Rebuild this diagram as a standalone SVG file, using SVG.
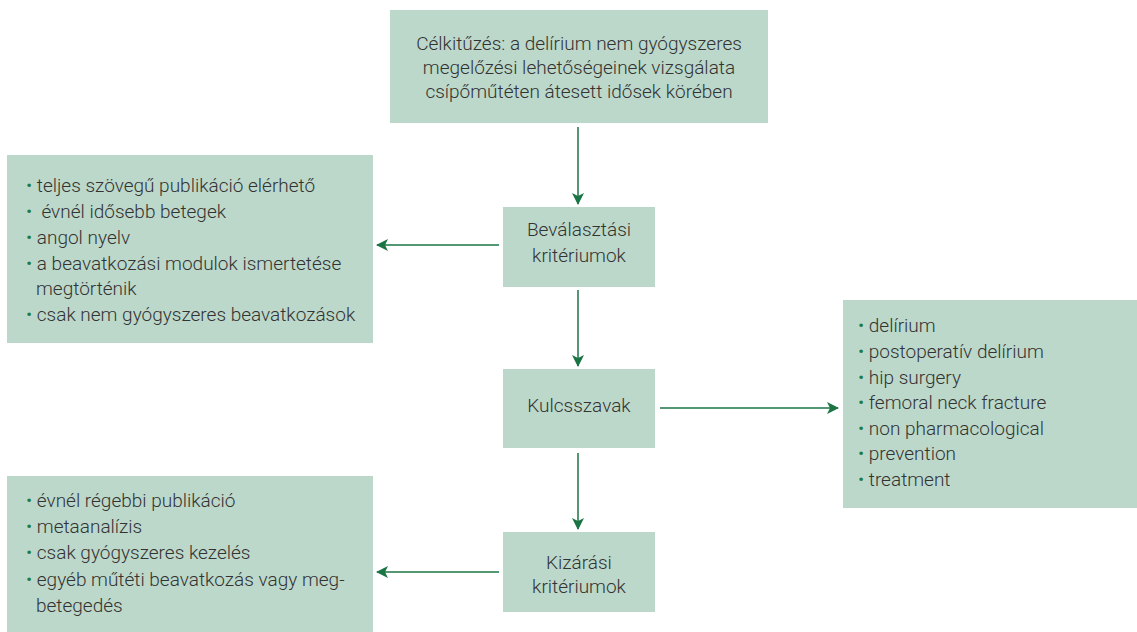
<svg xmlns="http://www.w3.org/2000/svg" width="1137" height="632" viewBox="0 0 1137 632">
<style>
.box{fill:#bcd8ca}
.t{font-family:Roboto,"Liberation Sans",sans-serif;font-weight:300;font-size:19px;fill:#333}
.c{text-anchor:middle}
.b{fill:#1d7a47}
.conn line{stroke:#1b7444;stroke-width:1.5}
</style>
<defs>
<marker id="ah" markerWidth="12" markerHeight="12" refX="11" refY="6" orient="auto" markerUnits="userSpaceOnUse">
<path d="M0,0 L12,6 L0,12 L3,6 Z" fill="#1b7444"/>
</marker>
</defs>
<g id="goal">
<rect class="box" x="390" y="10" width="378" height="113"/>
<text class="t c" x="579" y="50">Célkitűzés: a delírium nem gyógyszeres</text>
<text class="t c" x="579" y="74">megelőzési lehetőségeinek vizsgálata</text>
<text class="t c" x="579" y="98">csípőműtéten átesett idősek körében</text>
</g>
<g id="inclusion">
<rect class="box" x="503" y="207" width="152" height="80"/>
<text class="t c" x="579" y="236">Beválasztási</text>
<text class="t c" x="579" y="262">kritériumok</text>
</g>
<g id="keywords">
<rect class="box" x="503" y="369" width="152" height="79"/>
<text class="t c" x="579" y="412">Kulcsszavak</text>
</g>
<g id="exclusion">
<rect class="box" x="503" y="532" width="152" height="80"/>
<text class="t c" x="579" y="569">Kizárási</text>
<text class="t c" x="579" y="593">kritériumok</text>
</g>
<g id="inclusion-list">
<rect class="box" x="7" y="155" width="366" height="188"/>
<text class="t" x="26" y="192"><tspan class="b">•</tspan> teljes szövegű publikáció elérhető</text>
<text class="t" x="26" y="218" xml:space="preserve"><tspan class="b">•</tspan>  évnél idősebb betegek</text>
<text class="t" x="26" y="244"><tspan class="b">•</tspan> angol nyelv</text>
<text class="t" x="26" y="270"><tspan class="b">•</tspan> a beavatkozási modulok ismertetése</text>
<text class="t" x="36" y="295">megtörténik</text>
<text class="t" x="26" y="321"><tspan class="b">•</tspan> csak nem gyógyszeres beavatkozások</text>
</g>
<g id="exclusion-list">
<rect class="box" x="7" y="476" width="366" height="156"/>
<text class="t" x="26" y="507"><tspan class="b">•</tspan> évnél régebbi publikáció</text>
<text class="t" x="26" y="533"><tspan class="b">•</tspan> metaanalízis</text>
<text class="t" x="26" y="559"><tspan class="b">•</tspan> csak gyógyszeres kezelés</text>
<text class="t" x="26" y="586"><tspan class="b">•</tspan> egyéb műtéti beavatkozás vagy meg-</text>
<text class="t" x="36" y="612">betegedés</text>
</g>
<g id="keyword-list">
<rect class="box" x="843" y="300" width="294" height="208"/>
<text class="t" x="858" y="332"><tspan class="b">•</tspan> delírium</text>
<text class="t" x="858" y="358"><tspan class="b">•</tspan> postoperatív delírium</text>
<text class="t" x="858" y="384"><tspan class="b">•</tspan> hip surgery</text>
<text class="t" x="858" y="409"><tspan class="b">•</tspan> femoral neck fracture</text>
<text class="t" x="858" y="435"><tspan class="b">•</tspan> non pharmacological</text>
<text class="t" x="858" y="460"><tspan class="b">•</tspan> prevention</text>
<text class="t" x="858" y="486"><tspan class="b">•</tspan> treatment</text>
</g>
<g id="connectors" class="conn">
<line x1="578" y1="127" x2="578" y2="204" marker-end="url(#ah)"/>
<line x1="578" y1="290" x2="578" y2="366" marker-end="url(#ah)"/>
<line x1="578" y1="453" x2="578" y2="529" marker-end="url(#ah)"/>
<line x1="499" y1="245" x2="377" y2="245" marker-end="url(#ah)"/>
<line x1="499" y1="572" x2="377" y2="572" marker-end="url(#ah)"/>
<line x1="660" y1="408" x2="838" y2="408" marker-end="url(#ah)"/>
</g>
</svg>
